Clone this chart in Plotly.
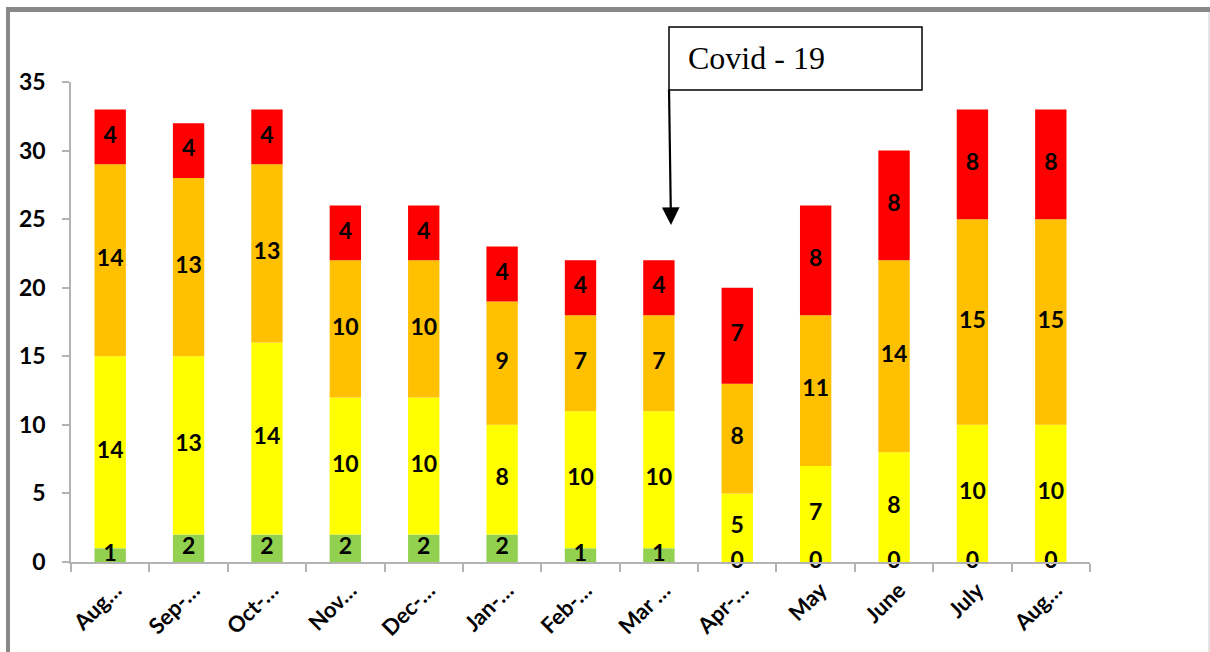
import plotly.graph_objects as go

tick_labels = ["Aug…", "Sep-…", "Oct-…", "Nov…", "Dec-…", "Jan-…", "Feb-…",
               "Mar …", "Apr-…", "May", "June", "July", "Aug…"]
green = [1, 2, 2, 2, 2, 2, 1, 1, 0, 0, 0, 0, 0]
yellow = [14, 13, 14, 10, 10, 8, 10, 10, 5, 7, 8, 10, 10]
orange = [14, 13, 13, 10, 10, 9, 7, 7, 8, 11, 14, 15, 15]
red = [4, 4, 4, 4, 4, 4, 4, 4, 7, 8, 8, 8, 8]

series = [("green", green, "#92D050"), ("yellow", yellow, "#FFFF00"),
          ("orange", orange, "#FFC000"), ("red", red, "#FF0000")]

x = list(range(len(tick_labels)))
fig = go.Figure()
base = [0] * len(x)
label_font = dict(family="Lato", size=23, color="black", weight="bold")
for name, vals, col in series:
    fig.add_trace(go.Bar(x=x, y=vals, base=base, name=name, width=0.4,
                         marker=dict(color=col, line=dict(width=0)),
                         showlegend=False, hoverinfo="y"))
    mids = [b + v / 2 for b, v in zip(base, vals)]
    fig.add_trace(go.Scatter(x=x, y=mids, mode="text", text=[str(v) for v in vals],
                             textfont=label_font, textposition="middle center",
                             showlegend=False, hoverinfo="skip", cliponaxis=False))
    base = [b + v for b, v in zip(base, vals)]

axis_gray = "#b3b3b3"
fig.update_layout(
    barmode="overlay",
    width=1210, height=652,
    margin=dict(l=71, r=120, t=82, b=90),
    paper_bgcolor="white", plot_bgcolor="white",
    xaxis=dict(range=[-0.5, len(x) - 0.5], tickvals=x, ticktext=tick_labels,
               tickangle=-45, ticks="", showline=True, linecolor=axis_gray, linewidth=1.5,
               showgrid=False, zeroline=False, ticklabelstandoff=5, ticklabelshift=5,
               tickfont=dict(family="Lato", size=22, color="black", weight="bold"),
               minor=dict(tickvals=[i - 0.5 for i in range(len(x) + 1)], ticks="outside",
                          ticklen=8, tickcolor=axis_gray, tickwidth=1.5, showgrid=False)),
    yaxis=dict(range=[0, 35], dtick=5, ticks="outside", ticklen=7, tickcolor=axis_gray,
               tickwidth=1.5, showline=True, linecolor=axis_gray, linewidth=1.5,
               showgrid=False, zeroline=False, ticklabelstandoff=12,
               tickfont=dict(family="Lato", size=23, color="black", weight="bold")),
)

def px(v):
    return (v - 71) / 1019

def py(v):
    return (562 - v) / 480

# frame
fig.add_shape(type="line", xref="paper", yref="paper", x0=px(6), x1=px(1210),
              y0=py(9.5), y1=py(9.5), line=dict(color="#888888", width=5))
fig.add_shape(type="line", xref="paper", yref="paper", x0=px(8), x1=px(8),
              y0=py(7), y1=py(660), line=dict(color="#888888", width=4))
fig.add_shape(type="line", xref="paper", yref="paper", x0=px(1209), x1=px(1209),
              y0=py(12), y1=py(660), line=dict(color="#dddddd", width=1.5))

# Covid box
fig.add_shape(type="rect", xref="paper", yref="paper", x0=px(669), x1=px(922),
              y0=py(90), y1=py(27), line=dict(color="black", width=1.5),
              fillcolor="white")
fig.add_annotation(xref="paper", yref="paper", x=px(686), y=py(58), xanchor="left",
                   yanchor="middle", text="Covid - 19", showarrow=False,
                   font=dict(family="Liberation Serif", size=32, color="black"))
fig.add_annotation(xref="paper", yref="paper", x=px(671), y=py(225), text="",
                   showarrow=True, axref="pixel", ayref="pixel", ax=-2, ay=-137,
                   arrowhead=2, arrowsize=1.6, arrowwidth=2.2, arrowcolor="black",
                   standoff=0, startstandoff=0)

fig.write_html("out.html", config={"displayModeBar": False},
               post_script="document.body.style.margin='0';document.body.style.padding='0';")
